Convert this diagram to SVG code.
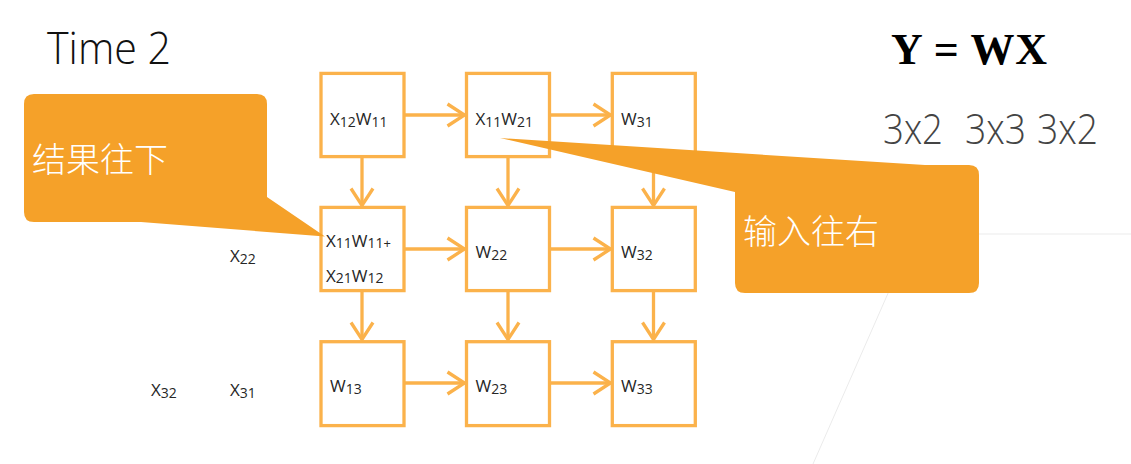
<svg xmlns="http://www.w3.org/2000/svg" width="1131" height="464" viewBox="0 0 1131 464">
<defs>
<style>
.box{fill:#fff;stroke:#FBB24B;stroke-width:3.3}
.con{stroke:#FBB24B;stroke-width:3.3;fill:none}
.lbl{font-family:"Open Sans","Noto Sans",sans-serif;font-size:17px;fill:#262626}
.s{font-size:14px}
.sp{font-size:13px}
.callout{fill:#F5A129}
.cjk{font-family:"Noto Sans CJK SC",sans-serif;font-size:34px;font-weight:300;fill:#fff}
.thin{font-family:"Open Sans","Noto Sans",sans-serif;font-weight:300}
.faint{stroke:#EBEBEB;stroke-width:1;fill:none}
</style>
<marker id="arr" markerUnits="userSpaceOnUse" markerWidth="40" markerHeight="40" viewBox="-20 -20 40 40" refX="0" refY="0" orient="auto" overflow="visible">
<path d="M-17,-11 L0,0 L-17,11" fill="none" stroke="#FBB24B" stroke-width="3.3" stroke-linejoin="miter"/>
</marker>
</defs>
<rect width="1131" height="464" fill="#fff"/>
<g id="bg-lines">
<line class="faint" x1="900" y1="234" x2="1131" y2="234"/>
<line class="faint" x1="900" y1="266" x2="813" y2="464"/>
</g>
<text id="title" class="thin" x="47" y="64" font-size="44" fill="#111" textLength="124" lengthAdjust="spacingAndGlyphs">Time 2</text>
<text id="formula" x="891" y="64" font-family="'Liberation Serif',serif" font-weight="bold" font-size="44" fill="#000" textLength="156" lengthAdjust="spacing">Y = WX</text>
<g id="dims" class="thin" font-size="42" fill="#444">
<text x="883" y="144" textLength="60" lengthAdjust="spacingAndGlyphs">3x2</text>
<text x="965" y="144" textLength="61" lengthAdjust="spacingAndGlyphs">3x3</text>
<text x="1037" y="144" textLength="61" lengthAdjust="spacingAndGlyphs">3x2</text>
</g>
<g id="connectors">
<line class="con" x1="405" y1="115" x2="464.5" y2="115" marker-end="url(#arr)"/>
<line class="con" x1="551" y1="115" x2="610.5" y2="115" marker-end="url(#arr)"/>
<line class="con" x1="405" y1="249" x2="464.5" y2="249" marker-end="url(#arr)"/>
<line class="con" x1="551" y1="249" x2="610.5" y2="249" marker-end="url(#arr)"/>
<line class="con" x1="405" y1="383" x2="464.5" y2="383" marker-end="url(#arr)"/>
<line class="con" x1="551" y1="383" x2="610.5" y2="383" marker-end="url(#arr)"/>
<line class="con" x1="362" y1="158" x2="362" y2="205.5" marker-end="url(#arr)"/>
<line class="con" x1="508" y1="158" x2="508" y2="205.5" marker-end="url(#arr)"/>
<line class="con" x1="653.5" y1="158" x2="653.5" y2="205.5" marker-end="url(#arr)"/>
<line class="con" x1="362" y1="292" x2="362" y2="339.5" marker-end="url(#arr)"/>
<line class="con" x1="508" y1="292" x2="508" y2="339.5" marker-end="url(#arr)"/>
<line class="con" x1="653.5" y1="292" x2="653.5" y2="339.5" marker-end="url(#arr)"/>
</g>
<g id="n11"><rect class="box" x="321" y="73.4" width="83" height="83.2"/>
<text class="lbl" x="330" y="125">X<tspan class="s" dy="1.5">12</tspan><tspan dy="-1.5">W</tspan><tspan class="s" dy="1.5">11</tspan></text></g>
<g id="n12"><rect class="box" x="466.5" y="73.4" width="83" height="83.2"/>
<text class="lbl" x="475.5" y="125">X<tspan class="s" dy="1.5">11</tspan><tspan dy="-1.5">W</tspan><tspan class="s" dy="1.5">21</tspan></text></g>
<g id="n13"><rect class="box" x="612.3" y="73.4" width="83" height="83.2"/>
<text class="lbl" x="621" y="125">W<tspan class="s" dy="1.5">31</tspan></text></g>
<g id="n21"><rect class="box" x="321" y="207.4" width="83" height="83.2"/>
<text class="lbl" x="326" y="246.5">X<tspan class="s" dy="1.5">11</tspan><tspan dy="-1.5">W</tspan><tspan class="s" dy="1.5">11</tspan><tspan class="sp">+</tspan></text>
<text class="lbl" x="326" y="281.5">X<tspan class="s" dy="1.5">21</tspan><tspan dy="-1.5">W</tspan><tspan class="s" dy="1.5">12</tspan></text></g>
<g id="n22"><rect class="box" x="466.5" y="207.4" width="83" height="83.2"/>
<text class="lbl" x="475.5" y="258">W<tspan class="s" dy="1.5">22</tspan></text></g>
<g id="n23"><rect class="box" x="612.3" y="207.4" width="83" height="83.2"/>
<text class="lbl" x="621" y="258">W<tspan class="s" dy="1.5">32</tspan></text></g>
<g id="n31"><rect class="box" x="321" y="341.7" width="83" height="83.9"/>
<text class="lbl" x="330" y="392">W<tspan class="s" dy="1.5">13</tspan></text></g>
<g id="n32"><rect class="box" x="466.5" y="341.7" width="83" height="83.9"/>
<text class="lbl" x="475.5" y="392">W<tspan class="s" dy="1.5">23</tspan></text></g>
<g id="n33"><rect class="box" x="612.3" y="341.7" width="83" height="83.9"/>
<text class="lbl" x="621" y="392">W<tspan class="s" dy="1.5">33</tspan></text></g>
<g id="inputs">
<text class="lbl" x="230" y="262">X<tspan class="s" dy="1.5">22</tspan></text>
<text class="lbl" x="230" y="396">X<tspan class="s" dy="1.5">31</tspan></text>
<text class="lbl" x="151" y="396">X<tspan class="s" dy="1.5">32</tspan></text>
</g>
<g id="callout-down">
<path class="callout" d="M34,94 H257 Q267,94 267,104 V197 L325,236.5 L141,222 H34 Q24,222 24,212 V104 Q24,94 34,94 Z"/>
<text class="cjk" x="32" y="172">结果往下</text>
</g>
<g id="callout-right">
<path class="callout" d="M735,192 L500,138 L925,165 H969 Q979,165 979,175 V283 Q979,293 969,293 H745 Q735,293 735,283 Z"/>
<text class="cjk" x="743" y="244">输入往右</text>
</g>
</svg>
